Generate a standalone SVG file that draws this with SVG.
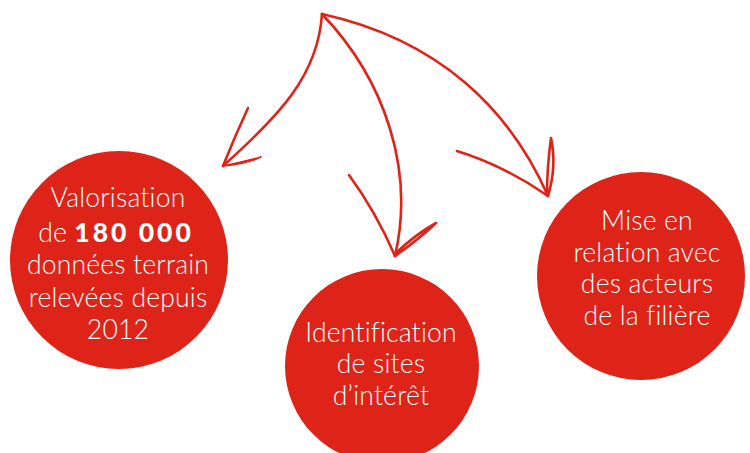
<svg xmlns="http://www.w3.org/2000/svg" width="750" height="453" viewBox="0 0 750 453">
<style>
.node{fill:#de2318}
.lbl{font-family:Lato,"Liberation Sans",sans-serif;font-weight:300;font-size:26.5px;fill:#fff;text-anchor:middle;letter-spacing:0.2px}
.big{font-family:Lato,"Liberation Sans",sans-serif;font-weight:900;letter-spacing:3px}
.arr{fill:none;stroke:#de2318;stroke-width:2.6;stroke-linecap:round;stroke-linejoin:round}
.lens{fill:#de2318;stroke:#de2318;stroke-width:1.5;stroke-linejoin:round}
</style>
<rect width="750" height="453" fill="#fff"/>
<g id="connectors">
<path class="arr" d="M322,14 C318,75 280,115 223,166"/>
<path class="arr" d="M248,108 Q235,136 223,166"/>
<path class="lens" d="M223,166 Q246,164 261,157 Q242,162 223,166 Z"/>
<path class="arr" d="M322,14 C385,80 415,170 395,256"/>
<path class="arr" d="M349,175 Q376,212 395,256"/>
<path class="arr" d="M395,256 Q418,240 436,223 Q416,234 396,253"/>
<path class="arr" d="M322,14 C440,40 510,110 548,196"/>
<path class="arr" d="M457,151 Q505,166 548,196"/>
<path class="arr" d="M548,196 Q557,166 551,138 Q547,168 547,194"/>
</g>
<g id="node-valorisation">
<circle class="node" cx="119" cy="260" r="109"/>
<text class="lbl" x="118" y="207">Valorisation</text>
<text class="lbl" x="116" y="242">de <tspan class="big">180 000</tspan></text>
<text class="lbl" x="118" y="274">données terrain</text>
<text class="lbl" x="118" y="307">relevées depuis</text>
<text class="lbl" x="118" y="339">2012</text>
</g>
<g id="node-identification">
<circle class="node" cx="382" cy="366" r="97"/>
<text class="lbl" x="381" y="342">Identification</text>
<text class="lbl" x="381" y="373">de sites</text>
<text class="lbl" x="381" y="405">d’intérêt</text>
</g>
<g id="node-mise">
<circle class="node" cx="641" cy="276" r="104"/>
<text class="lbl" x="647" y="230">Mise en</text>
<text class="lbl" x="647" y="262">relation avec</text>
<text class="lbl" x="647" y="293">des acteurs</text>
<text class="lbl" x="647" y="325">de la filière</text>
</g>
</svg>
